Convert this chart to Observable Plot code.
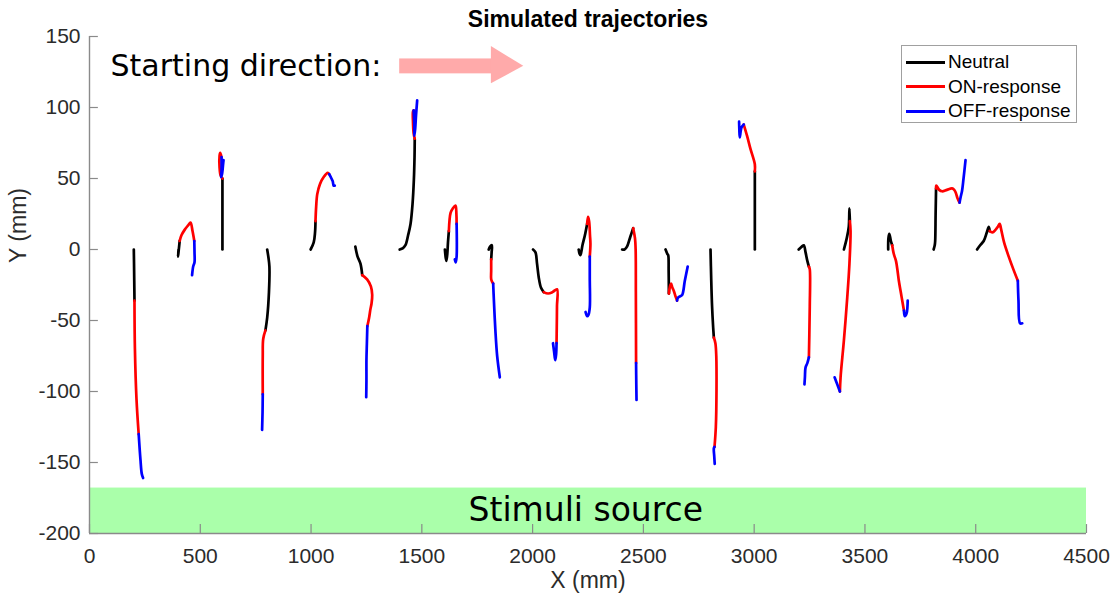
<!DOCTYPE html>
<html>
<head>
<meta charset="utf-8">
<script src="https://cdn.jsdelivr.net/npm/d3@7"></script>
<script src="https://cdn.jsdelivr.net/npm/@observablehq/plot@0.6"></script>
<style>
  body { margin: 0; background: #fff; }
  #chart { position: relative; width: 1115px; height: 601px; }
  .legend {
    position: absolute; left: 901px; top: 45px; width: 176px; height: 78px;
    box-sizing: border-box; border: 1px solid #a0a0a0; background: #fff;
    font-family: "Liberation Sans", Arial, sans-serif; font-size: 19px; color: #000;
    padding-top: 4px;
  }
  .legend .row { display: flex; align-items: center; height: 24.5px; }
  .legend .swatch { width: 39px; height: 2.6px; margin-left: 4px; margin-right: 3px; }
</style>
</head>
<body>
<div id="chart"></div>
<script>
// Response phases and their line colours
const phases = ["Neutral", "ON-response", "OFF-response"];
const phaseColors = ["#000000", "#ff0000", "#0000ff"];

// Axis ticks
const xTicks = [0, 500, 1000, 1500, 2000, 2500, 3000, 3500, 4000, 4500];
const yTicks = [-200, -150, -100, -50, 0, 50, 100, 150];

// Trajectory pieces (x, y in mm), one entry per simulated animal.
// Each ON piece starts where its Neutral piece ends, each OFF piece where its ON piece ends.
const neutral = [
  [[200,0],[201,-10],[203,-36]],
  [[402,0],[399,-5],[401,-3],[407,6]],
  [[600,0],[600,25],[600,50]],
  [[802,0],[808,-6],[812,-12],[810,-30],[802,-48],[794,-57]],
  [[998,0],[1012,5],[1018,12],[1020,20]],
  [[1200,2],[1210,-5],[1223,-10],[1231,-18]],
  [[1400,0],[1415,1],[1426,3],[1438,10],[1449,18],[1458,32],[1464,49],[1467,65],[1468,78]],
  [[1604,0],[1608,-6],[1611,-8],[1615,-3],[1618,5],[1622,13]],
  [[1802,0],[1808,2],[1816,3],[1815,-2],[1813,-7]],
  [[2002,0],[2013,-2],[2020,-10],[2028,-20],[2038,-27],[2050,-30]],
  [[2208,0],[2212,-3],[2216,-4],[2225,3],[2236,10],[2246,18]],
  [[2404,0],[2415,0],[2426,2],[2441,9],[2454,15]],
  [[2600,0],[2608,-3],[2612,-4],[2614,-15],[2615,-31]],
  [[2803,0],[2806,-20],[2810,-40],[2815,-55],[2818,-62]],
  [[3003,0],[3003,30],[3003,55]],
  [[3201,0],[3215,2],[3224,3],[3232,-2],[3240,-8],[3247,-12]],
  [[3405,0],[3418,8],[3427,16],[3430,29],[3432,20]],
  [[3605,0],[3606,8],[3610,11],[3617,6],[3623,3]],
  [[3810,0],[3815,3],[3817,6],[3819,25],[3821,43]],
  [[4006,0],[4020,3],[4036,6],[4050,12],[4059,16],[4063,13]]
];
const onResponse = [
  [[203,-36],[205,-70],[212,-105],[222,-130]],
  [[407,6],[415,10],[430,14],[445,17],[456,19],[465,13],[473,6]],
  [[600,50],[592,52],[587,58],[587,66],[590,68],[596,65]],
  [[794,-57],[784,-63],[782,-75],[782,-102]],
  [[1020,20],[1023,30],[1028,39],[1040,46],[1057,51],[1075,54],[1082,53]],
  [[1231,-18],[1253,-21],[1270,-26],[1276,-32],[1273,-38],[1268,-42],[1262,-48],[1254,-54]],
  [[1468,78],[1463,82],[1460,90],[1460,97],[1463,98]],
  [[1622,13],[1630,26],[1640,29],[1652,31],[1656,25],[1657,18]],
  [[1813,-7],[1813,-15],[1813,-21],[1818,-23],[1822,-24]],
  [[2050,-30],[2070,-31],[2090,-30],[2110,-28],[2110,-40],[2109,-55],[2108,-66]],
  [[2246,18],[2250,23],[2255,20],[2259,10],[2261,4],[2258,-5]],
  [[2454,15],[2462,8],[2465,0],[2466,-30],[2467,-80]],
  [[2615,-31],[2620,-26],[2625,-24],[2631,-27],[2637,-29],[2645,-33],[2652,-36]],
  [[2818,-62],[2825,-66],[2829,-75],[2830,-99],[2827,-125],[2821,-139]],
  [[3003,55],[3003,60],[2983,71],[2968,80],[2953,88]],
  [[3247,-12],[3251,-14],[3251,-40],[3249,-60],[3247,-76]],
  [[3432,20],[3435,13],[3430,-10],[3420,-34],[3405,-64],[3390,-90],[3387,-100]],
  [[3623,3],[3630,-3],[3640,-8],[3648,-16],[3653,-22],[3665,-33],[3676,-43]],
  [[3821,43],[3822,45],[3835,42],[3848,41],[3870,42],[3893,43],[3903,42],[3910,40],[3918,36],[3927,33]],
  [[4063,13],[4075,12],[4090,14],[4100,16],[4108,18],[4115,14],[4128,5],[4149,-5],[4170,-14],[4190,-22]]
];
const offResponse = [
  [[222,-130],[230,-148],[236,-158],[242,-161]],
  [[473,6],[474,-2],[474,-9],[468,-12],[463,-18]],
  [[596,65],[596,56],[594,51],[598,53],[603,60],[605,63]],
  [[782,-102],[781,-115],[779,-127]],
  [[1082,53],[1092,50],[1098,48],[1102,45],[1107,45]],
  [[1254,-54],[1252,-66],[1250,-78],[1250,-92],[1249,-104]],
  [[1463,98],[1466,88],[1466,80],[1470,85],[1474,95],[1479,105]],
  [[1657,18],[1658,5],[1657,-5],[1653,-9],[1649,-7]],
  [[1822,-24],[1825,-35],[1832,-57],[1840,-75],[1852,-90]],
  [[2108,-66],[2106,-74],[2102,-78],[2097,-72],[2092,-66]],
  [[2258,-5],[2258,-20],[2258,-41],[2252,-46],[2246,-47],[2239,-44]],
  [[2467,-80],[2468,-95],[2469,-106]],
  [[2652,-36],[2656,-34],[2665,-33],[2675,-32],[2687,-22],[2700,-12]],
  [[2821,-139],[2818,-140],[2820,-146],[2822,-151]],
  [[2953,88],[2943,86],[2935,79],[2933,85],[2932,90]],
  [[3247,-76],[3240,-80],[3232,-83],[3229,-90],[3227,-95]],
  [[3387,-100],[3375,-95],[3363,-90]],
  [[3676,-43],[3680,-47],[3688,-45],[3693,-36]],
  [[3927,33],[3932,37],[3938,41],[3945,50],[3954,63]],
  [[4190,-22],[4193,-36],[4200,-52],[4210,-52]]
];

// Stimulus source strip along the bottom of the arena: [xStart, xEnd, yBottom, yTop]
const sourceBand = [[0, 4500, -200, -168]];

// Flatten the pieces into rows for the line mark; z keeps every piece separate
const rows = [];
[neutral, onResponse, offResponse].forEach((set, p) => {
  set.forEach((pts, t) => {
    pts.forEach(([x, y]) => rows.push({x, y, phase: phases[p], piece: `${t}-${p}`}));
  });
});

const axisGray = "#8a8a8a";
const labelColor = "#2b2b2b";

// Direction arrow geometry (mm)
const arrowShaft = [{x1: 1400, x2: 1816, y1: 123.7, y2: 134.2}];
const arrowHead = [{x: 1814, y1: 116.7, y2: 143}, {x: 1960, y1: 129, y2: 129}];

const chart = Plot.plot({
  width: 1115,
  height: 601,
  marginLeft: 89,
  marginRight: 29,
  marginTop: 36,
  marginBottom: 68,
  x: {domain: [0, 4500]},
  y: {domain: [-200, 150]},
  color: {domain: phases, range: phaseColors},
  style: {fontFamily: "'Liberation Sans', Arial, sans-serif", background: "#fff", overflow: "visible"},
  marks: [
    Plot.rect(sourceBand, {x1: d => d[0], x2: d => d[1], y1: d => d[2], y2: d => d[3], fill: "#aaffaa"}),
    Plot.text(["Stimuli source"], {x: 2240, y: -183.5, text: d => d, fontFamily: "'DejaVu Sans', sans-serif", fontSize: 33, fill: "#000"}),

    // axis lines and inward ticks
    Plot.ruleX([0], {y1: -200, y2: 150, stroke: axisGray, strokeWidth: 1.4}),
    Plot.ruleY([-200], {x1: 0, x2: 4500, stroke: axisGray, strokeWidth: 1.4}),
    Plot.ruleX(xTicks, {y1: -200, y2: -193.7, stroke: axisGray, strokeWidth: 1.2}),
    Plot.ruleY(yTicks, {x1: 0, x2: 40, stroke: axisGray, strokeWidth: 1.2}),
    Plot.axisX(xTicks, {tickSize: 0, tickPadding: 15, tickFormat: d => String(d), fontSize: 21, fill: labelColor, label: null}),
    Plot.axisY(yTicks, {tickSize: 0, tickPadding: 9, tickFormat: d => String(d), fontSize: 21, fill: labelColor, label: null}),

    // trajectories
    Plot.line(rows, {x: "x", y: "y", z: "piece", stroke: "phase", strokeWidth: 2.7, strokeLinejoin: "round", strokeLinecap: "round", curve: "catmull-rom"}),

    // starting direction annotation
    Plot.text(["Starting direction:"], {x: 95, y: 129, text: d => d, textAnchor: "start", fontFamily: "'DejaVu Sans', sans-serif", fontSize: 30, fill: "#000"}),
    Plot.rect(arrowShaft, {x1: "x1", x2: "x2", y1: "y1", y2: "y2", fill: "#ffaaaa"}),
    Plot.areaY(arrowHead, {x: "x", y1: "y1", y2: "y2", fill: "#ffaaaa"}),

    // titles
    Plot.text(["Simulated trajectories"], {frameAnchor: "top", lineAnchor: "middle", dy: -17, text: d => d, fontWeight: "bold", fontSize: 23, fill: "#000"}),
    Plot.text(["X (mm)"], {frameAnchor: "bottom", lineAnchor: "middle", dy: 47, text: d => d, fontSize: 23, fill: labelColor}),
    Plot.text(["Y (mm)"], {frameAnchor: "left", dx: -71, dy: -22, rotate: -90, text: d => d, fontSize: 23, fill: labelColor})
  ]
});

const host = document.getElementById("chart");
host.appendChild(chart);

// Legend box in the upper-right corner
const legend = document.createElement("div");
legend.className = "legend";
phases.forEach((name, i) => {
  const row = document.createElement("div");
  row.className = "row";
  const sw = document.createElement("span");
  sw.className = "swatch";
  sw.style.background = phaseColors[i];
  const label = document.createElement("span");
  label.textContent = name;
  row.appendChild(sw);
  row.appendChild(label);
  legend.appendChild(row);
});
host.appendChild(legend);
</script>
</body>
</html>
